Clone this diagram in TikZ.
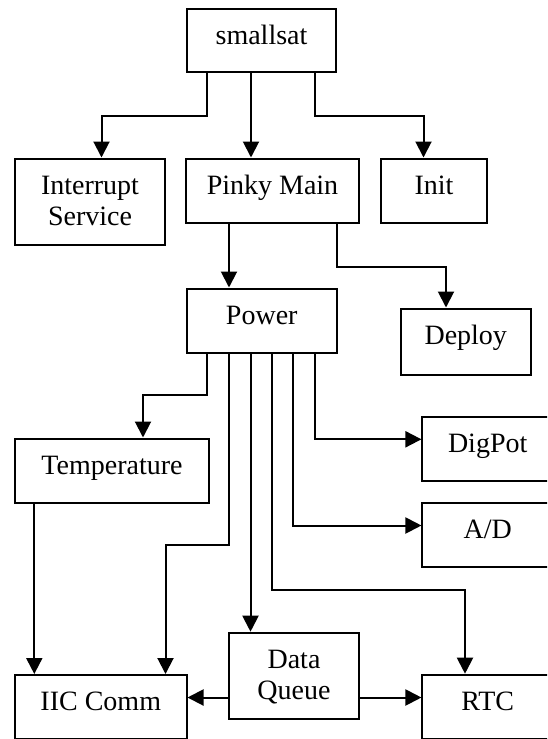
\documentclass[tikz,border=0pt]{standalone}
\usepackage{fontspec}
\setmainfont{Liberation Serif}
\usetikzlibrary{arrows.meta}
\begin{document}
\begin{tikzpicture}[x=1pt,y=-1pt,
  box/.style={draw,line width=2pt,inner sep=0pt,rectangle,anchor=base,
    text height=35.5pt,font=\fontsize{28}{31}\selectfont},
  arr/.style={line width=2pt,-{Triangle[length=16pt,width=16pt]}}]
\useasboundingbox[fill=white] (0,0) rectangle (547,739);
\clip (0,0) rectangle (547,739);
\node[box,minimum width=149pt,text depth=27.5pt] (smallsat) at (261.5,44.5) {smallsat};
\node[box,minimum width=150pt,text depth=50.5pt] (interrupt) at (90,194) {\begin{tabular}[t]{@{}c@{}}Interrupt\\Service\end{tabular}};
\node[box,minimum width=173pt,text depth=28.5pt] (pinky) at (272.5,194) {Pinky Main};
\node[box,minimum width=106pt,text depth=28.5pt] (init) at (434,194) {Init};
\node[box,minimum width=149.5pt,text depth=28.5pt] (power) at (261.75,324) {Power};
\node[box,minimum width=130.5pt,text depth=31pt] (deploy) at (465.75,344) {Deploy};
\node[box,minimum width=194.5pt,text depth=28.5pt] (temp) at (112,474) {Temperature};
\node[box,minimum width=130.5pt,text depth=28.5pt] (digpot) at (487.7,452.2) {DigPot};
\node[box,minimum width=130.5pt,text depth=28.5pt] (ad) at (487.7,538.2) {A/D};
\node[box,minimum width=130pt,text depth=50.5pt] (dq) at (294,668.2) {\begin{tabular}[t]{@{}c@{}}Data\\Queue\end{tabular}};
\node[box,minimum width=171.5pt,text depth=28.5pt] (iic) at (100.75,710.5) {IIC Comm};
\node[box,minimum width=130.5pt,text depth=28.5pt] (rtc) at (487.7,710.2) {RTC};
% connectors
\draw[arr] ([xshift=-54.8pt]smallsat.south) -- ++(0,43) -| ([xshift=11.5pt]interrupt.north);
\draw[arr] ([xshift=-10.5pt]smallsat.south) -- ([xshift=-21.5pt]pinky.north);
\draw[arr] ([xshift=53pt]smallsat.south) -- ++(0,43) -| ([xshift=-10.5pt]init.north);
\draw[arr] ([xshift=-43.5pt]pinky.south) -- ([xshift=-32.75pt]power.north);
\draw[arr] ([xshift=64.1pt]pinky.south) -- ++(0,43.5) -| ([xshift=-19.75pt]deploy.north);
\draw[arr] ([xshift=-54.95pt]power.south) -- ++(0,41.8) -| ([xshift=31pt]temp.north);
\draw[arr] ([xshift=-32.75pt]power.south) -- ++(0,191.8) -| ([xshift=64.75pt]iic.north);
\draw[arr] ([xshift=-11.25pt]power.south) -- ([xshift=-43.5pt]dq.north);
\draw[arr] ([xshift=10.25pt]power.south) -- ++(0,236.5) -| ([xshift=-22.7pt]rtc.north);
\draw[arr] ([xshift=31.25pt]power.south) |- ([yshift=9.2pt]ad.west);
\draw[arr] ([xshift=53.25pt]power.south) |- ([yshift=9.4pt]digpot.west);
\draw[arr] ([xshift=-77.7pt]temp.south) -- ([xshift=-66.45pt]iic.north);
\draw[arr] ([yshift=-21.8pt]dq.west) -- ([yshift=9.5pt]iic.east);
\draw[arr] ([yshift=-21.8pt]dq.east) -- ([yshift=9.2pt]rtc.west);
\end{tikzpicture}
\end{document}
